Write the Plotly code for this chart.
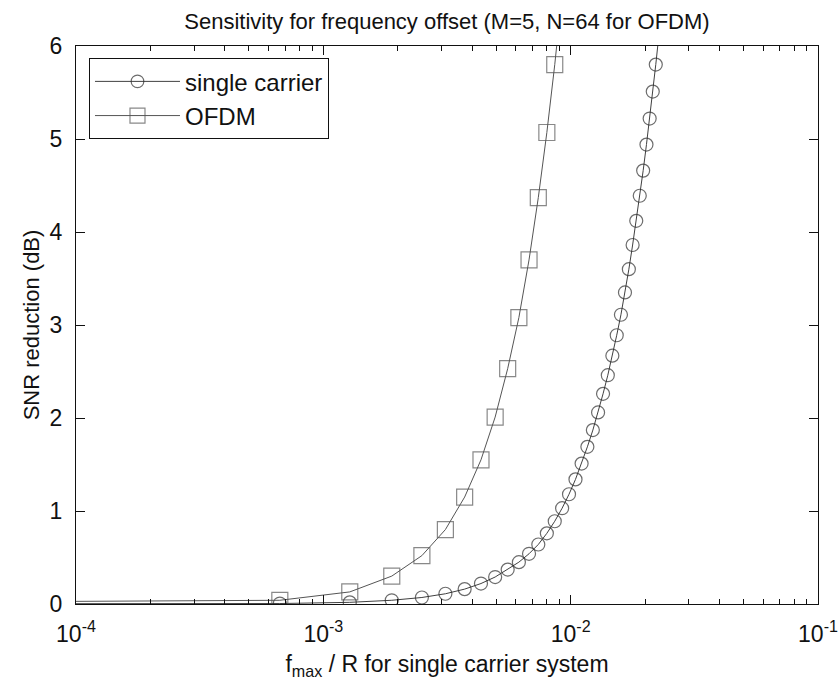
import plotly.graph_objects as go

title_text = "Sensitivity for frequency offset (M=5, N=64 for OFDM)"
x_label = "f<sub>max</sub> / R for single carrier system"
y_label = "SNR reduction (dB)"

# shared frequency-offset grid (first entry is the lead-in point left of the axis)
offset = [1e-6, 0.000667, 0.001279, 0.001891, 0.002503, 0.003115, 0.003727,
          0.004339, 0.004951, 0.005563, 0.006175, 0.006787, 0.007399, 0.008011,
          0.008623, 0.009235, 0.009847, 0.010459, 0.011071, 0.011683, 0.012295,
          0.012907, 0.013519, 0.014131, 0.014743, 0.015355, 0.015967, 0.016579,
          0.017191, 0.017803, 0.018415, 0.019027, 0.019639, 0.020251, 0.020863,
          0.021475, 0.022087, 0.022699]

sc_snr = [0.0, 0.005, 0.018, 0.04, 0.07, 0.11, 0.16, 0.22, 0.29, 0.37, 0.45,
          0.54, 0.64, 0.76, 0.89, 1.03, 1.18, 1.34, 1.51, 1.69, 1.87, 2.06,
          2.26, 2.46, 2.67, 2.89, 3.11, 3.35, 3.60, 3.86, 4.12, 4.39, 4.66,
          4.94, 5.22, 5.51, 5.80, 6.10]

ofdm_snr = [0.0, 0.04, 0.13, 0.30, 0.52, 0.80, 1.15, 1.55, 2.01, 2.53, 3.08,
            3.70, 4.37, 5.07, 5.80, 6.56]

series_names = ["single carrier", "OFDM"]

x_tickvals = [1e-4, 1e-3, 1e-2, 1e-1]
x_ticktext = ["10<sup>-4</sup>", "10<sup>-3</sup>", "10<sup>-2</sup>", "10<sup>-1</sup>"]
y_tickvals = [0, 1, 2, 3, 4, 5, 6]

FONT = "Liberation Sans, Arial, Helvetica, sans-serif"
INK = "#111111"

minor_vals = [m * 10.0 ** e for e in (-4, -3, -2) for m in range(2, 10)]

def sizes(n, s):
    return [0] + [s] * (n - 1)

fig = go.Figure()
fig.add_trace(go.Scatter(
    x=offset[:len(sc_snr)], y=sc_snr, name=series_names[0],
    mode="lines+markers",
    line=dict(color="#404040", width=1),
    marker=dict(symbol="circle-open", size=sizes(len(sc_snr), 13),
                color="#2e2e2e", line=dict(width=1.2, color="#2e2e2e")),
))
fig.add_trace(go.Scatter(
    x=offset[:len(ofdm_snr)], y=ofdm_snr, name=series_names[1],
    mode="lines+markers",
    line=dict(color="#555555", width=1),
    marker=dict(symbol="square-open", size=sizes(len(ofdm_snr), 16),
                color="#555555", line=dict(width=1.2, color="#555555")),
))

fig.update_layout(
    width=838, height=684, autosize=False,
    margin=dict(l=76, r=20, t=46, b=80),
    paper_bgcolor="white", plot_bgcolor="white",
    font=dict(family=FONT, size=22, color=INK),
    title=dict(text=title_text, x=(76 + 818) / 2 / 838, xanchor="center",
               y=1 - 21 / 684, yanchor="middle", yref="container",
               font=dict(size=22, color=INK)),
    showlegend=True,
    legend=dict(x=0.0175, y=0.978, xanchor="left", yanchor="top",
                bgcolor="white", bordercolor=INK, borderwidth=1,
                itemwidth=85, tracegroupgap=0,
                font=dict(size=24, color=INK)),
)

fig.update_xaxes(
    type="log", range=[-4, -1], automargin=False,
    tickmode="array", tickvals=x_tickvals, ticktext=x_ticktext,
    ticks="inside", ticklen=9, tickwidth=1, tickcolor=INK,
    minor=dict(tickmode="array", tickvals=minor_vals, ticks="inside",
               ticklen=5, tickwidth=1, tickcolor=INK, showgrid=False),
    showline=True, linecolor=INK, linewidth=1, mirror="ticks",
    showgrid=False, zeroline=False,
    tickfont=dict(size=23, color=INK), ticklabelstandoff=9,
    title=dict(text=x_label, font=dict(size=23, color=INK), standoff=10),
)
fig.update_yaxes(
    range=[0, 6], automargin=False, tickmode="array", tickvals=y_tickvals,
    ticks="inside", ticklen=9, tickwidth=1, tickcolor=INK,
    showline=True, linecolor=INK, linewidth=1, mirror="ticks",
    showgrid=False, zeroline=False,
    tickfont=dict(size=23, color=INK), ticklabelstandoff=8,
    title=dict(text=y_label, font=dict(size=22, color=INK), standoff=3),
)

fig.write_html("out.html")
